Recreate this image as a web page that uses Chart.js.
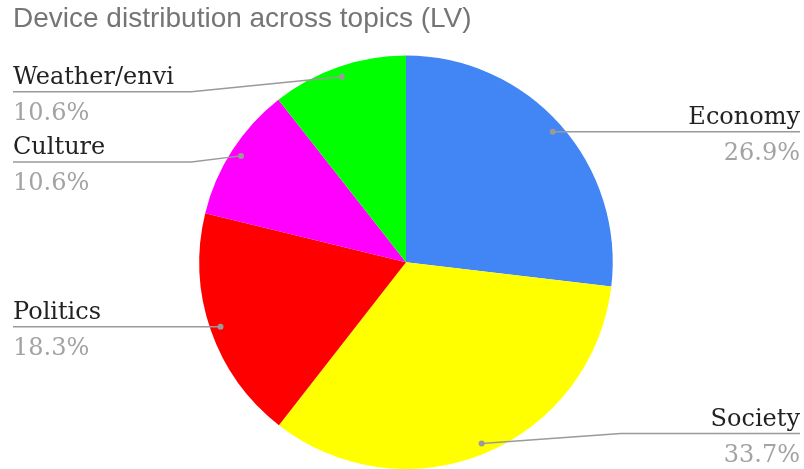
<!DOCTYPE html>
<html>
<head>
<meta charset="utf-8">
<script src="https://cdn.jsdelivr.net/npm/chart.js@4"></script>
<style>
  html, body { margin: 0; padding: 0; background: #fff; }
  #wrap { width: 804px; height: 469px; }
</style>
</head>
<body>
<div id="wrap"><canvas id="chart"></canvas></div>
<script>
const topics = ['Economy', 'Society', 'Politics', 'Culture', 'Weather/envi'];
const shares = [26.9, 33.7, 18.3, 10.6, 10.6];
const sliceColors = ['#4285F4', '#FFFF00', '#FF0000', '#FF00FF', '#00FF00'];

// vertical nudge of each label line from its dot (px)
const lineShift = [0, -10, 0, 6, 15];

const sideLabels = {
    id: 'sideLabels',
    afterDatasetsDraw(chart) {
        const ctx = chart.ctx;
        const arcs = chart.getDatasetMeta(0).data;
        ctx.save();
        arcs.forEach((arc, i) => {
            const mid = (arc.startAngle + arc.endAngle) / 2;
            const r = arc.outerRadius * 0.95;
            const px = arc.x + Math.cos(mid) * r;
            const py = arc.y + Math.sin(mid) * r;
            const right = px > arc.x;
            const ly = py + lineShift[i];
            const edge = right ? chart.width - 4 : 13;
            const bend = right ? arc.x + arc.outerRadius + 8 : arc.x - arc.outerRadius - 8;

            ctx.strokeStyle = '#9a9a9a';
            ctx.lineWidth = 1.5;
            ctx.beginPath();
            ctx.moveTo(edge, ly);
            if (lineShift[i] !== 0) {
                ctx.lineTo(bend, ly);
            }
            ctx.lineTo(px, py);
            ctx.stroke();

            ctx.fillStyle = '#9a9a9a';
            ctx.beginPath();
            ctx.arc(px, py, 3, 0, Math.PI * 2);
            ctx.fill();

            ctx.textAlign = right ? 'right' : 'left';
            ctx.textBaseline = 'alphabetic';
            ctx.font = '24px "DejaVu Serif"';
            ctx.fillStyle = '#222222';
            ctx.fillText(topics[i], edge, ly - 8);
            ctx.fillStyle = '#a3a3a3';
            ctx.fillText(shares[i].toFixed(1) + '%', edge, ly + 28);
        });
        ctx.restore();
    }
};

const ctx = document.getElementById('chart').getContext('2d');
new Chart(ctx, {
    type: 'pie',
    data: {
        labels: topics,
        datasets: [{
            data: shares,
            backgroundColor: sliceColors,
            borderWidth: 0
        }]
    },
    options: {
        responsive: true,
        maintainAspectRatio: false,
        animation: false,
        layout: { padding: { left: 13, right: 5, top: 0, bottom: 0 } },
        plugins: {
            legend: { display: false },
            tooltip: { enabled: false },
            title: {
                display: true,
                text: 'Device distribution across topics (LV)',
                align: 'start',
                color: '#757575',
                font: { family: '"Liberation Sans", Arial, sans-serif', size: 28, weight: 'normal' },
                padding: { top: 2, bottom: 20 }
            }
        }
    },
    plugins: [sideLabels]
});
</script>
</body>
</html>
